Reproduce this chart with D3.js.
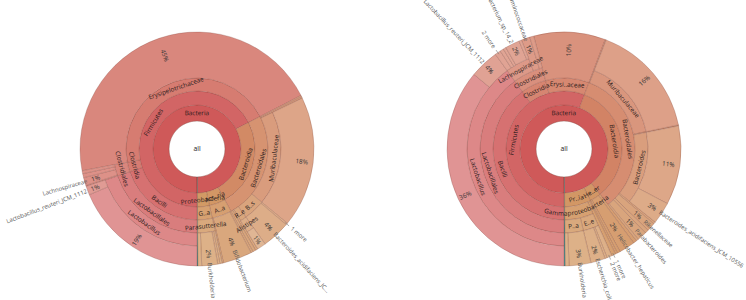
<!DOCTYPE html>
<html><head><meta charset="utf-8">
<script src="https://cdn.jsdelivr.net/npm/d3@7"></script>
<style>
html,body{margin:0;padding:0;background:#fff;}
svg{display:block;font-family:"Open Sans",sans-serif;}
</style></head><body>
<svg id="chart" width="746" height="300"></svg>
<script>
// ---------- Left sample ----------
const leftNames = ["all","Bacteria","Firmicutes","Bacilli","Lactobacillales","Lactobacillus","","Lactobacillus_reuteri_JCM_1112",
  "Clostridia","Clostridiales","","Lachnospiraceae","","",
  "Erysipelotrichaceae","",
  "Bacteroidia","Bacteroidales","","","Muribaculaceae","","B..s","1 more","Bacteroides_acidifaciens_JC\u2026","R..e","Alistipes","","","",
  "Act..ria","A..a","","Bifidobacterium","",
  "Proteobacteria","G..a","Parasutterella","","","Burkholderia","",
  ""];
const leftParents = [-1,0,1,2,3,4,5,5,
  2,8,9,9,9,9,
  2,14,
  1,16,17,17,17,20,17,22,22,17,25,26,17,17,
  1,30,31,31,31,
  1,35,36,37,37,37,37,
  0];
const leftValues = [0,0,0,0,0,0,18.6,1.2,
  0,0,0.15,1.1,0.55,0.4,
  0,45.4,
  0,0,0.2,0.2,0,18.1,0,0.25,3.9,0,0,1.2,0.35,0.4,
  0,0,0.3,4.0,0.2,
  0,0,0,0.3,0.3,2.2,0.5,
  0.14];

// ---------- Right sample ----------
const rightNames = ["all","Bacteria","Firmicutes","Bacilli","Lactobacillales","Lactobacillus","","Lactobacillus_reuteri_JCM_1112",
  "Clostridia","Clostridiales","Lachnospiraceae","2 more","","","Eubacterium_sp_14_2","","Ruminococcaceae","",
  "Erysi..aceae","",
  "Bacteroidia","Bacteroidales","","Muribaculaceae","","","Bacteroides","","Bacteroides_acidifaciens_JCM_10556","","Rikenellaceae","","Parabacteroides","",
  "He..er","","Helicobacter_hepaticus","",
  "Pr..ia","","1 more","Gammaproteobacteria","E..e","2 more","","Escherichia_coli","P..a","Burkholderia","",
  ""];
const rightParents = [-1,0,1,2,3,4,5,5,
  2,8,9,10,10,10,10,10,9,9,
  2,18,
  1,20,21,21,23,21,21,26,26,21,21,21,21,21,
  1,34,34,34,
  1,38,38,38,41,42,42,42,41,46,46,
  0];
const rightValues = [0,0,0,0,0,0,36.0,4.0,
  0,0,0,0.8,0.5,0.4,2.0,0.35,1.2,0.55,
  0,9.9,
  0,0,0.15,0,15.8,0.15,0,10.9,3.0,0.3,1.2,0.5,1.3,0.3,
  0,0.5,2.2,0.4,
  0,0.3,0.55,0,0,0.7,0.3,2.0,0,3.0,0.5,
  0.2];

const ringRadii = [0, 28, 44, 58, 71, 84, 97];
const outerRadius = 117;
const chartCenters = [[197,149],[564,149]];
const labelSize = 6.4;
const leafNameSize = 5.9;

const svg = d3.select("#chart");
let pathCounter = 0;

function drawKrona(cx, cy, names, parents, values) {
  const rows = names.map((n,i)=>({id:String(i), parent: parents[i] < 0 ? null : String(parents[i]), name:n, value:values[i]}));
  const root = d3.stratify().id(d=>d.id).parentId(d=>d.parent)(rows);
  root.sum(d=>d.value);
  d3.partition().size([2*Math.PI, 1])(root);
  const off = Math.PI;
  const total = root.value;
  const R = outerRadius;
  const g = svg.append("g").attr("transform", `translate(${cx},${cy})`);
  const inner = d => ringRadii[d.depth];
  const outer = d => d.depth === 0 ? ringRadii[1] : (d.children ? ringRadii[d.depth+1] : R);
  const arc = d3.arc().startAngle(d=>d.x0+off).endAngle(d=>d.x1+off).innerRadius(inner).outerRadius(outer);
  const mainTop = root.children[0];
  const color = d => {
    if (d.depth === 0) return "#ffffff";
    const top = d.ancestors().find(a=>a.depth===1);
    if (top !== mainTop) return d3.hsl(180, 0.38, 0.45).toString();
    const h = 30 * d.x0 / (2*Math.PI);
    return d3.hsl(h, 0.55, 0.55 + 0.03*d.depth).toString();
  };
  g.selectAll("path.w").data(root.descendants()).join("path")
    .attr("class","w").attr("d", arc).attr("fill", color)
    .attr("stroke","rgba(110,55,45,0.38)").attr("stroke-width",0.6);

  const pt = (a, r) => [r*Math.sin(a), -r*Math.cos(a)];
  const degOf = a => ((a*180/Math.PI) % 360 + 360) % 360;

  g.append("text").attr("text-anchor","middle").attr("dy","0.35em")
    .attr("font-size",labelSize+0.4).attr("fill","#1a1a1a").text(root.data.name);

  root.descendants().filter(d=>d.depth>0 && d.children && d.data.name).forEach(d=>{
    const a = (d.x0+d.x1)/2 + off;
    const r = (inner(d)+outer(d))/2;
    const deg = degOf(a);
    const bottom = deg > 90 && deg < 270;
    const t = g.append("text").attr("font-size",labelSize).attr("fill","#2a1a1a").attr("text-anchor","middle").attr("dy","0.35em").text(d.data.name);
    const len = t.node().getComputedTextLength();
    if (len / r > 0.9) {
      t.remove();
      const id = "kp" + (pathCounter++);
      let s, e, sweep;
      if (!bottom) { s = a - Math.PI/2; e = a + Math.PI/2; sweep = 1; }
      else { s = a + Math.PI/2; e = a - Math.PI/2; sweep = 0; }
      const p0 = pt(s, r), p1 = pt(e, r);
      g.append("path").attr("id", id).attr("fill","none")
        .attr("d", `M${p0[0]},${p0[1]} A${r},${r} 0 0 ${sweep} ${p1[0]},${p1[1]}`);
      g.append("text").attr("font-size",labelSize).attr("fill","#2a1a1a").attr("dy","0.35em")
        .append("textPath").attr("href","#"+id).attr("startOffset","50%").attr("text-anchor","middle").text(d.data.name);
    } else {
      const [x,y] = pt(a, r);
      const rot = bottom ? deg - 180 : (deg > 270 ? deg - 360 : deg);
      t.attr("transform", `translate(${x},${y}) rotate(${rot})`);
    }
  });

  root.leaves().forEach(d=>{
    const a = (d.x0+d.x1)/2 + off;
    const deg = degOf(a);
    const right = deg < 180;
    const rot = right ? deg - 90 : deg - 270;
    const pct = d.value / total * 100;
    const showPct = pct >= 0.95;
    const rP = Math.min((inner(d)+R)/2 + 5, R - 8);
    if (showPct) {
      const [x,y] = pt(a, rP);
      g.append("text").attr("font-size",labelSize).attr("fill","#333").attr("text-anchor","middle").attr("dy","0.35em")
        .attr("transform", `translate(${x},${y}) rotate(${rot})`).text(Math.round(pct) + "%");
    }
    if (d.data.name) {
      const rN = showPct ? rP + 9 : R + 6;
      if (!showPct) {
        const q0 = pt(a, R - 2), q1 = pt(a, R + 3);
        g.append("line").attr("x1",q0[0]).attr("y1",q0[1]).attr("x2",q1[0]).attr("y2",q1[1])
          .attr("stroke","#777").attr("stroke-width",0.6);
      }
      const [x,y] = pt(a, rN);
      g.append("text").attr("font-size",leafNameSize).attr("fill","#555").attr("text-anchor", right ? "start" : "end").attr("dy","0.35em")
        .attr("transform", `translate(${x},${y}) rotate(${rot})`).text(d.data.name);
    }
  });
}

drawKrona(chartCenters[0][0], chartCenters[0][1], leftNames, leftParents, leftValues);
drawKrona(chartCenters[1][0], chartCenters[1][1], rightNames, rightParents, rightValues);
</script>
</body></html>
